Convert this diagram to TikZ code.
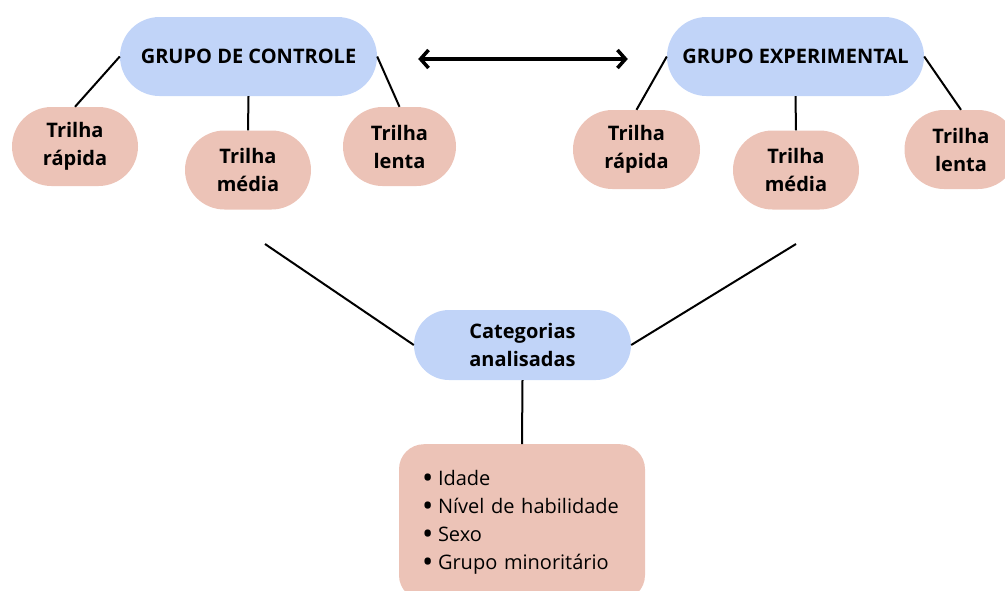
\documentclass[tikz,border=0pt]{standalone}
\usepackage{fontspec}
\setmainfont{Open Sans}
\usetikzlibrary{arrows.meta}
\definecolor{grupoblue}{HTML}{C1D4F8}
\definecolor{trilhapink}{HTML}{ECC3B7}
\newcommand{\itembullet}{\makebox[16pt][l]{\raisebox{-3.2pt}{\scalebox{1.5}{\textbullet}}}}

\begin{document}
\begin{tikzpicture}[x=1pt,y=-1pt]
    \useasboundingbox (0,0) rectangle (1005,590);
    \clip (0,0) rectangle (1005,590);
    \begin{scope}[every node/.style={fill=grupoblue, rounded corners=39.5pt, minimum height=79pt, inner sep=0pt, font=\fontsize{20}{28}\selectfont\bfseries, align=center}]
        \node[minimum width=257pt] (gc) at (248.5,56.5) {GRUPO DE CONTROLE};
        \node[minimum width=257pt] (ge) at (795.5,56.5) {GRUPO EXPERIMENTAL};
        \node[minimum width=217pt, minimum height=70pt, rounded corners=35pt] (cat) at (522.5,345) {Categorias\\analisadas};
    \end{scope}

    \begin{scope}[every node/.style={fill=trilhapink, rounded corners=39.5pt, minimum height=79pt, inner sep=0pt, font=\fontsize{20}{28}\selectfont\bfseries, align=center}]
        \node[minimum width=126pt] (r1) at (75,146.5) {Trilha\\rápida};
        \node[minimum width=126pt] (m1) at (248,170) {Trilha\\média};
        \node[minimum width=113pt] (l1) at (399.5,146.5) {Trilha\\lenta};
        \node[minimum width=127pt] (r2) at (636.5,149.5) {Trilha\\rápida};
        \node[minimum width=126pt] (m2) at (796,170) {Trilha\\média};
        \node[minimum width=113pt] (l2) at (961,149.5) {Trilha\\lenta};
        \node[rounded corners=25pt, anchor=north, font=\fontsize{20}{28}\selectfont, align=left, text width=200pt, inner xsep=23pt, inner ysep=26pt] (lista) at (522,444)
            {\itembullet Idade\\\itembullet Nível de habilidade\\\itembullet Sexo\\\itembullet Grupo minoritário};
    \end{scope}

    \coordinate (c1) at (265,244);
    \coordinate (c2) at (796,244);

    \begin{scope}[every edge/.style={draw, line width=2pt}]
        \path [-] (gc.west) edge (r1.north);
        \path [-] (gc.south) edge (m1.north);
        \path [-] (gc.east) edge (l1.north);
        \path [-] (ge.west) edge (r2.north);
        \path [-] (ge.south) edge (m2.north);
        \path [-] (ge.east) edge (l2.north);
        \path [-] (c1) edge (cat.west);
        \path [-] (c2) edge (cat.east);
        \path [-] (cat.south) edge (lista.north);
    \end{scope}

    \draw [{Straight Barb[length=8pt,width=18pt]}-{Straight Barb[length=8pt,width=18pt]}, line width=3.5pt, shorten <=41pt, shorten >=39pt] ([yshift=-2.5pt]gc.east) -- ([yshift=-2.5pt]ge.west);
\end{tikzpicture}
\end{document}
